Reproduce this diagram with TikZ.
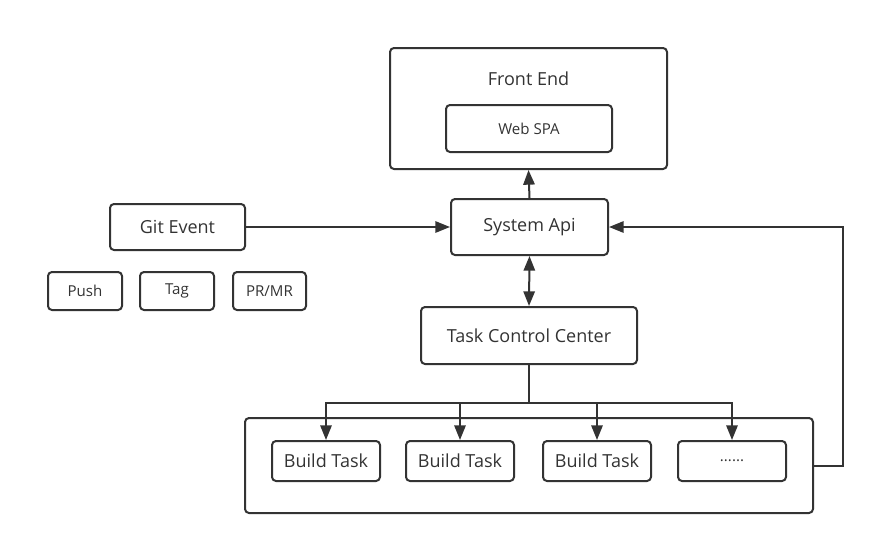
\documentclass[tikz,border=0pt]{standalone}
\usepackage{fontspec}
\setmainfont{Open Sans}
\usetikzlibrary{arrows.meta}
\definecolor{ink}{HTML}{333333}
\tikzset{
  box/.style={draw=ink, line width=1.5pt, rounded corners=3pt, inner sep=0pt, text=ink},
  big/.style={font=\fontsize{13.5}{15}\selectfont},
  small/.style={font=\fontsize{11.3}{13}\selectfont},
  conn/.style={draw=ink, line width=1.5pt, -{Triangle[length=11pt,width=8.5pt]}},
}
\begin{document}
\begin{tikzpicture}[x=0.75pt,y=-0.75pt]
\useasboundingbox (0,0) rectangle (875,546);
% Front end
\node[box, minimum width=277*0.75pt, minimum height=121*0.75pt] (fe) at (528.5,108.5) {};
\node[big, text=ink] (fet) at (528.5,79) {Front End};
\node[box, small, minimum width=166*0.75pt, minimum height=47*0.75pt] (spa) at (529,128.5) {Web SPA};
% System api
\node[box, big, minimum width=157*0.75pt, minimum height=56*0.75pt] (api) at (529.5,227) {System Api};
% Git event
\node[box, big, minimum width=135*0.75pt, minimum height=46*0.75pt] (git) at (177.5,227) {Git Event};
\node[box, small, minimum width=74*0.75pt, minimum height=38*0.75pt] (push) at (85,291) {Push};
\node[box, small, minimum width=74*0.75pt, minimum height=38*0.75pt] (tag) at (177,291) {\strut Tag};
\node[box, small, minimum width=73*0.75pt, minimum height=38*0.75pt] (pr) at (269.5,291) {PR/MR};
% Task control
\node[box, big, minimum width=216*0.75pt, minimum height=57*0.75pt] (tcc) at (529,335.5) {Task Control Center};
% Container
\node[box, minimum width=568*0.75pt, minimum height=95*0.75pt] (cont) at (529,465.5) {};
\node[box, big, minimum width=108*0.75pt, minimum height=40*0.75pt] (b1) at (326,461) {Build Task};
\node[box, big, minimum width=108*0.75pt, minimum height=40*0.75pt] (b2) at (460,461) {Build Task};
\node[box, big, minimum width=108*0.75pt, minimum height=40*0.75pt] (b3) at (597,461) {Build Task};
\node[box, small, minimum width=108*0.75pt, minimum height=40*0.75pt] (b4) at (732,461) {......};
% connectors
\coordinate (split) at (529,403);
\draw[conn] (api.north) -- (fe.south);
\draw[conn] (git.east) -- (api.west);
\draw[conn, {Triangle[length=11pt,width=8.5pt]}-{Triangle[length=11pt,width=8.5pt]}] (api.south) -- (tcc.north);
\draw[draw=ink, line width=1.5pt] (tcc.south) -- (split);
\draw[conn] (split) -| (b1.north);
\draw[conn] (split) -| (b2.north);
\draw[conn] (split) -| (b3.north);
\draw[conn] (split) -| (b4.north);
\coordinate (fb) at (843,465.5);
\draw[conn] (cont.east) -- (fb) |- (api.east);
\end{tikzpicture}
\end{document}
